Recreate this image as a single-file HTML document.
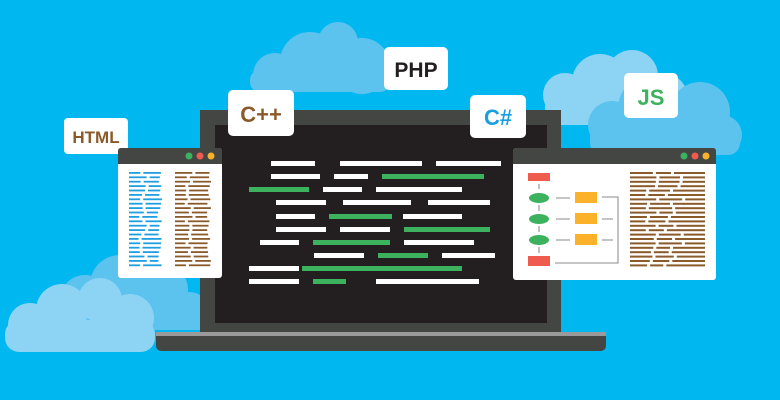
<!DOCTYPE html>
<html><head><meta charset="utf-8"><style>
html,body{margin:0;padding:0;background:#00b7ef;}
svg{display:block}
text{font-family:"Liberation Sans",sans-serif;font-weight:bold;}
</style></head><body>
<svg id="s" width="780" height="400" viewBox="0 0 780 400" xmlns="http://www.w3.org/2000/svg">
<rect width="780" height="400" fill="#00b7ef"/>
<!-- top cloud -->
<g fill="#5cc3ef">
<circle cx="275" cy="75" r="22"/><circle cx="310" cy="62" r="30"/><circle cx="338" cy="42" r="20"/><circle cx="362" cy="66" r="28"/>
<rect x="250" y="70" width="140" height="22" rx="10"/>
</g>
<!-- right clouds -->
<g fill="#8dd4f4">
<circle cx="565" cy="95" r="22"/><circle cx="600" cy="82" r="28"/><circle cx="632" cy="76" r="26"/><circle cx="665" cy="96" r="22"/>
<rect x="545" y="95" width="140" height="30" rx="12"/>
</g>
<g fill="#5cc3ef">
<circle cx="612" cy="125" r="24"/><circle cx="650" cy="108" r="32"/><circle cx="700" cy="112" r="30"/><circle cx="722" cy="135" r="20"/>
<rect x="590" y="125" width="150" height="30" rx="12"/>
</g>
<!-- left bottom clouds -->
<g fill="#5cc3ef">
<circle cx="85" cy="300" r="25"/><circle cx="120" cy="285" r="30"/><circle cx="160" cy="290" r="28"/><circle cx="190" cy="310" r="18"/>
<rect x="60" y="300" width="150" height="30" rx="12"/>
</g>
<g fill="#8dd4f4">
<circle cx="30" cy="325" r="22"/><circle cx="62" cy="310" r="26"/><circle cx="100" cy="300" r="22"/><circle cx="130" cy="318" r="24"/>
<rect x="5" y="320" width="150" height="32" rx="14"/>
</g>
<!-- laptop -->
<rect x="200" y="110" width="361" height="224" fill="#444644"/>
<rect x="215" y="125" width="332" height="198" fill="#231f20"/>
<rect x="156" y="332" width="450" height="4" fill="#9a9a9a"/>
<path d="M156 336 H606 V345 Q606 351 600 351 H162 Q156 351 156 345 Z" fill="#444644"/>
<g id="code"></g>
<!-- label boxes -->
<g>
<rect x="64" y="118" width="64" height="36" rx="4" fill="#fff"/>
<text x="96" y="143" font-size="17" fill="#8a5a2b" text-anchor="middle">HTML</text>
<rect x="228" y="90" width="66" height="46" rx="5" fill="#fff"/>
<text x="261" y="122" font-size="22" fill="#8a5a2b" text-anchor="middle">C++</text>
<rect x="384" y="47" width="64" height="43" rx="5" fill="#fff"/>
<text x="416" y="77" font-size="21" fill="#231f20" text-anchor="middle">PHP</text>
<rect x="470" y="95" width="56" height="43" rx="5" fill="#fff"/>
<text x="498" y="125" font-size="22" fill="#1a9ee0" text-anchor="middle">C#</text>
<rect x="624" y="73" width="54" height="45" rx="5" fill="#fff"/>
<text x="651" y="105" font-size="22" fill="#3db25e" text-anchor="middle">JS</text>
</g>
<!-- left window -->
<rect x="118" y="148" width="104" height="130" rx="3" fill="#fff"/>
<path d="M118 151 Q118 148 121 148 H219 Q222 148 222 151 V164 H118 Z" fill="#444644"/>
<circle cx="189" cy="156" r="3.5" fill="#3db25e"/><circle cx="200" cy="156" r="3.5" fill="#ef5b4f"/><circle cx="211" cy="156" r="3.5" fill="#fbb12a"/>
<g id="lw"></g>
<!-- right window -->
<rect x="513" y="148" width="203" height="132" rx="3" fill="#fff"/>
<path d="M513 151 Q513 148 516 148 H713 Q716 148 716 151 V164 H513 Z" fill="#444644"/>
<circle cx="684" cy="156" r="3.5" fill="#3db25e"/><circle cx="695" cy="156" r="3.5" fill="#ef5b4f"/><circle cx="706" cy="156" r="3.5" fill="#fbb12a"/>
<g id="rw"></g>
<rect x="528" y="173" width="22" height="8" fill="#ef5b4f"/>
<rect x="528" y="256" width="22" height="10" fill="#ef5b4f"/>
<g fill="#3db25e"><ellipse cx="539" cy="198" rx="10" ry="5"/><ellipse cx="539" cy="219" rx="10" ry="5"/><ellipse cx="539" cy="240" rx="10" ry="5"/></g>
<g fill="#fbb12a"><rect x="575" y="192" width="22" height="11"/><rect x="575" y="213" width="22" height="11"/><rect x="575" y="234" width="22" height="11"/></g>
<g stroke="#666" stroke-width="0.8" fill="none">
<path d="M539 184V189M539 205V211M539 226V232M539 247V253"/>
<path d="M556 198H570M556 219H570M556 240H570M602 219H613M602 240H613"/>
<path d="M602 197H618V263H555"/>
</g>
</svg>
<script>
var NS="http://www.w3.org/2000/svg";
function r(g,x,y,w,h,c){var e=document.createElementNS(NS,"rect");e.setAttribute("x",x);e.setAttribute("y",y);e.setAttribute("width",w);e.setAttribute("height",h);e.setAttribute("fill",c);document.getElementById(g).appendChild(e);}
var W="#ffffff",G="#3db25e";
var rows=[
[161,[[271,315,W],[340,422,W],[436,501,W]]],
[174,[[271,320,W],[334,368,W],[382,484,G]]],
[187,[[249,309,G],[323,362,W],[376,462,W]]],
[200,[[276,326,W],[343,411,W],[428,490,W]]],
[214,[[276,315,W],[329,392,G],[403,462,W]]],
[227,[[276,326,W],[340,390,W],[404,490,G]]],
[240,[[260,299,W],[313,390,G],[404,474,W]]],
[253,[[314,364,W],[378,428,G],[442,495,W]]],
[266,[[249,299,W],[302,462,G]]],
[279,[[249,299,W],[313,346,G],[376,479,W]]]];
rows.forEach(function(rw){rw[1].forEach(function(s){r("code",s[0],rw[0],s[1]-s[0],5,s[2]);});});
var seed=3;function rnd(){seed=(seed*9301+49297)%233280;return seed/233280;}
for(var y=172;y<268;y+=4.4){
 var a=8+rnd()*10; r("lw",129,y,a,1.8,"#1f9fe0"); r("lw",129+a+3,y,33-a-3-rnd()*5,1.8,"#1f9fe0");
 var b=8+rnd()*10; r("lw",175,y,b,1.8,"#8a5a2b"); r("lw",175+b+3,y,36-b-3-rnd()*4,1.8,"#8a5a2b");
 var c=15+rnd()*12, d=12+rnd()*12; r("rw",630,y,c,2,"#8a5a2b"); r("rw",633+c,y,d,2,"#8a5a2b"); r("rw",636+c+d,y,705-(636+c+d),2,"#8a5a2b");
}
</script>
</body></html>
